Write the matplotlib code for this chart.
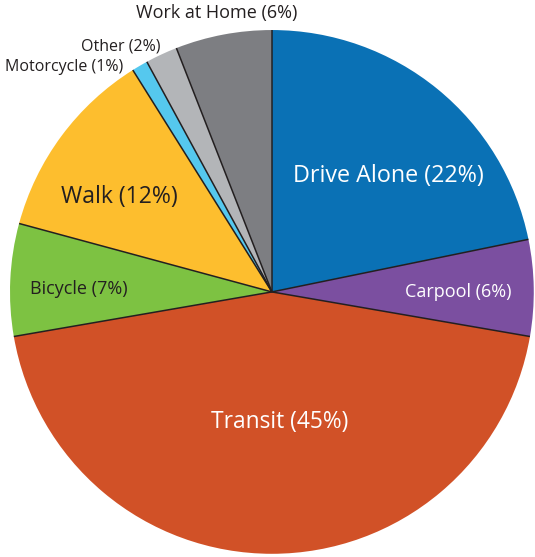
import numpy as np
import matplotlib.pyplot as plt

# commute mode share, clockwise from 12 o'clock
modes = ['Drive Alone', 'Carpool', 'Transit', 'Bicycle', 'Walk',
         'Motorcycle', 'Other', 'Work at Home']
shares = [22, 6, 45, 7, 12, 1, 2, 6]
colors = ['#0a71b5', '#7b4fa0', '#d15127', '#7dc242', '#fdbe2e',
          '#55c8ee', '#b3b5b8', '#7d7e82']

# label placement (pie radius = 1) and styling
label_xy = [(0.443, 0.442), (0.712, -0.002), (0.029, -0.495), (-0.737, 0.013),
            (-0.584, 0.364), (-0.569, 0.858), (-0.424, 0.938), (-0.212, 1.064)]
label_size = [16.8, 13.0, 16.4, 13.0, 16.6, 11.5, 11.5, 13.0]
label_color = ['white', 'white', 'white', '#231f20', '#231f20',
               '#231f20', '#231f20', '#231f20']
label_ha = ['center'] * 5 + ['right', 'right', 'center']

plt.rcParams['font.family'] = ['Open Sans', 'DejaVu Sans']

fig = plt.figure(figsize=(5.35, 5.57), dpi=100)
ax = fig.add_axes([0.0187, 0.0054, 0.979, 0.941])

wedges, _ = ax.pie(shares, colors=colors, startangle=90, counterclock=False,
                   radius=1, wedgeprops=dict(linewidth=0))

# dark separators only along the radii
for w in wedges:
    t = np.deg2rad(w.theta1)
    ax.plot([0, np.cos(t)], [0, np.sin(t)], color='#231f20', lw=1.1,
            solid_capstyle='butt', zorder=3)

for name, pct, (x, y), fs, col, ha in zip(modes, shares, label_xy, label_size,
                                          label_color, label_ha):
    ax.text(x, y, f'{name} ({pct}%)', ha=ha, va='center', fontsize=fs,
            color=col, zorder=4)

ax.set_xlim(-1, 1)
ax.set_ylim(-1, 1)
ax.set_aspect('equal')
ax.axis('off')

fig.savefig('out.png', dpi=100)
